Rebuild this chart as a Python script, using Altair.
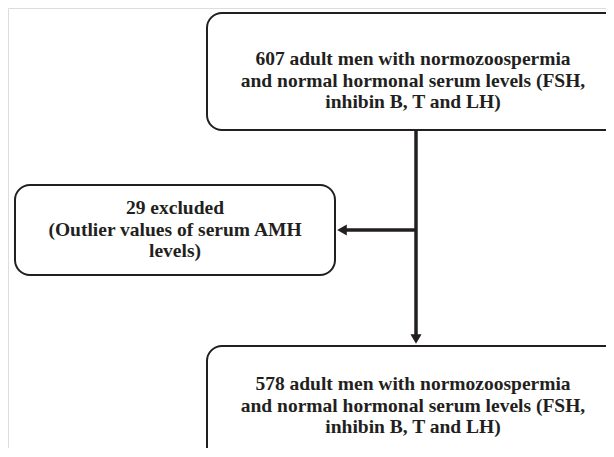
import altair as alt
import pandas as pd

# ---- content ----
box_names = ["start", "excluded", "final"]
box_labels = [
    "607 adult men with normozoospermia\nand normal hormonal serum levels (FSH,\ninhibin B, T and LH)",
    "29 excluded\n(Outlier values of serum AMH\nlevels)",
    "578 adult men with normozoospermia\nand normal hormonal serum levels (FSH,\ninhibin B, T and LH)",
]

# ---- layout (data units of the diagram) ----
box_x1 = [207, 15, 207]
box_x2 = [622, 335, 622]
box_y1 = [13, 185, 346]
box_y2 = [130, 275, 470]
label_x = [413, 175, 413]
label_y = [59, 208, 384]   # centre of first text line

# connector segments
seg_x1 = [416, 416]
seg_x2 = [416, 344]
seg_y1 = [130, 230]
seg_y2 = [337, 230]

# arrow heads
head_x = [416, 342]
head_y = [339, 230]
head_shape = ["triangle-down", "triangle-left"]

INK = "#231f20"

boxes = pd.DataFrame({"name": box_names, "x1": box_x1, "x2": box_x2,
                      "y1": box_y1, "y2": box_y2})
labels = pd.DataFrame({"name": box_names, "label": box_labels,
                       "x": label_x, "y": label_y})
segs = pd.DataFrame({"x1": seg_x1, "x2": seg_x2, "y1": seg_y1, "y2": seg_y2})
heads = pd.DataFrame({"x": head_x, "y": head_y, "shape": head_shape})

W, H = 598, 440
xs = alt.Scale(domain=[8, 8 + W], nice=False, zero=False)
ys = alt.Scale(domain=[8, 8 + H], nice=False, zero=False, reverse=True)

X = lambda f: alt.X(f, type="quantitative", scale=xs, axis=None)
Y = lambda f: alt.Y(f, type="quantitative", scale=ys, axis=None)

rects = alt.Chart(boxes).mark_rect(
    fill="white", stroke=INK, strokeWidth=2, cornerRadius=15
).encode(x=X("x1"), x2="x2", y=Y("y1"), y2="y2")

lines = alt.Chart(segs).mark_rule(color=INK, strokeWidth=3.5).encode(
    x=X("x1"), x2="x2", y=Y("y1"), y2="y2"
)

arrow = alt.Chart(heads).mark_point(
    filled=True, color=INK, opacity=1, size=125
).encode(
    x=X("x"), y=Y("y"),
    shape=alt.Shape("shape:N", scale=None, legend=None),
)

text = alt.Chart(labels).mark_text(
    font="Liberation Serif", fontWeight="bold", fontSize=19.5,
    lineHeight=21.5, color=INK, align="center", baseline="middle",
    lineBreak="\n"
).encode(x=X("x"), y=Y("y"), text="label:N")

chart = (
    alt.layer(rects, lines, arrow, text)
    .properties(width=W, height=H, padding=0,
                autosize=alt.AutoSizeParams(type="none"))
    .configure_view(stroke=None, fill="white")
    .configure(background="white")
)

chart.save("out.html", embed_options={"renderer": "svg", "actions": False})
